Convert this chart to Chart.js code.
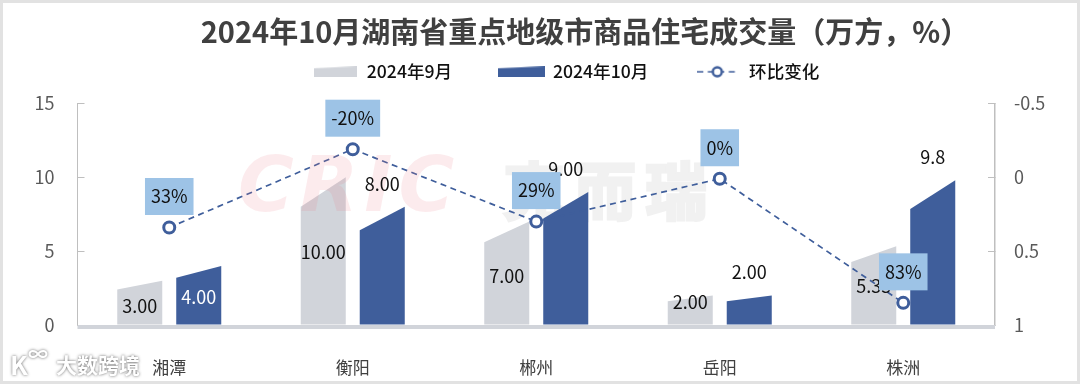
<!DOCTYPE html>
<html lang="zh">
<head>
<meta charset="utf-8">
<title>2024年10月湖南省重点地级市商品住宅成交量</title>
<style>
  html,body{margin:0;padding:0;background:#fff;}
  #wrap{position:relative;width:1080px;height:384px;}
</style>
</head>
<body>
<div id="wrap"><canvas id="chart" width="1080" height="384"></canvas></div>
<script src="https://cdn.jsdelivr.net/npm/chart.js@4"></script>
<script>
const titleText = '2024年10月湖南省重点地级市商品住宅成交量（万方，%）';
const categories = ['湘潭','衡阳','郴州','岳阳','株洲'];
const sep2024 = [3, 10, 7, 2, 5.33];
const oct2024 = [4, 8, 9, 2, 9.8];
const momChange = [0.34, -0.19, 0.30, 0.01, 0.85];
const sepLabels = ['3.00','10.00','7.00','2.00','5.33'];
const octLabels = ['4.00','8.00','9.00','2.00','9.8'];
const momLabels = ['33%','-20%','29%','0%','83%'];
const seriesNames = ['2024年9月','2024年10月','环比变化'];

const FONT = '"Noto Sans CJK SC","Noto Sans",sans-serif';
const GREY = '#d1d4da', BLUE = '#3f5e9b', BOX = '#9dc3e6';

// ---- legend swatches ----
function swatch(w, h, color, line){
  const c = document.createElement('canvas'); c.width = w; c.height = h;
  const g = c.getContext('2d');
  if(line){
    g.strokeStyle = color; g.lineWidth = 1.7; g.setLineDash([6,4.5]);
    g.beginPath(); g.moveTo(0,h/2); g.lineTo(w,h/2); g.stroke();
    g.setLineDash([]); g.lineWidth = 2.5; g.fillStyle = '#fff';
    g.beginPath(); g.arc(w/2,h/2,4.5,0,Math.PI*2); g.fill(); g.stroke();
  } else {
    g.fillStyle = color;
    g.beginPath(); g.moveTo(0,h); g.lineTo(w,h); g.lineTo(w,0); g.lineTo(0,2); g.closePath(); g.fill();
  }
  return c;
}
const swatches = [swatch(43,11,GREY), swatch(47,11,BLUE), swatch(40,14,BLUE,true)];

// ---- bars with a slanted top: left edge sits at 80% of the height ----
const slantBars = {
  id:'slantBars',
  beforeDatasetDraw(chart, args){
    const meta = args.meta;
    if(meta.type !== 'bar') return;
    const ctx = chart.ctx;
    ctx.save();
    ctx.fillStyle = chart.data.datasets[args.index].backgroundColor;
    meta.data.forEach(b=>{
      const l = b.x - b.width/2, r = b.x + b.width/2;
      ctx.beginPath();
      ctx.moveTo(l, b.base);
      ctx.lineTo(r, b.base);
      ctx.lineTo(r, b.y);
      ctx.lineTo(l, b.base - (b.base - b.y)*0.8);
      ctx.closePath();
      ctx.fill();
    });
    ctx.restore();
    return false;
  }
};

// ---- frame, floor, watermarks, labels ----
const sepNudge = [25,75,55,7,40];
const octNudge = [31,-23,-23,-23,-23];
const boxLift = 31;
const decorations = {
  id:'decorations',
  afterLayout(chart){
    // title and legend do not follow the default stacking in the source image
    chart.titleBlock.left += 45; chart.titleBlock.right += 45;
    chart.titleBlock.top = 15;
    chart.legend.left = 266; chart.legend.right = chart.legend.left + chart.legend.width;
    chart.legend.top = 17;
    chart.legend.adjustHitBoxes();
  },
  beforeDraw(chart){
    const c = chart.ctx;
    c.save();
    c.strokeStyle = '#e2e2e2'; c.lineWidth = 3;
    c.strokeRect(1.5,1.5,chart.width-3,chart.height-3);
    c.restore();
  },
  beforeDatasetsDraw(chart){
    const c = chart.ctx, a = chart.chartArea;
    c.save();
    // grey part of the watermark sits behind the bars
    c.textBaseline = 'middle';
    c.font = '700 62px '+FONT;
    c.letterSpacing = '9px';
    c.fillStyle = c.strokeStyle = '#f1f1f1';
    c.lineWidth = 3;
    c.strokeText('克而瑞', 503, 191);
    c.fillText('克而瑞', 503, 191);
    c.letterSpacing = '0px';
    c.fillStyle = GREY;
    c.fillRect(a.left, a.bottom, a.right-a.left, 4);
    c.restore();
  },
  afterDatasetsDraw(chart){
    const c = chart.ctx, y = chart.scales.y;
    c.save();
    // watermark
    c.textBaseline = 'middle';
    c.font = 'italic 700 76px "DejaVu Sans",sans-serif';
    c.fillStyle = 'rgba(236,120,135,.15)';
    c.textAlign = 'left';
    c.letterSpacing = '6px';
    c.fillText('CRIC', 238, 191);
    c.letterSpacing = '0px';
    // bar values
    c.font = '18px '+FONT;
    c.textAlign = 'center';
    const m0 = chart.getDatasetMeta(0).data, m1 = chart.getDatasetMeta(1).data;
    sepLabels.forEach((t,i)=>{
      c.fillStyle = '#111';
      c.fillText(t, m0[i].x, y.getPixelForValue(sep2024[i]) + sepNudge[i]);
    });
    octLabels.forEach((t,i)=>{
      c.fillStyle = i===0 ? '#fff' : '#111';
      c.fillText(t, m1[i].x, y.getPixelForValue(oct2024[i]) + octNudge[i]);
    });
    // change-rate boxes
    const pts = chart.getDatasetMeta(2).data;
    momLabels.forEach((t,i)=>{
      const w = c.measureText(t).width + 12, h = 37, cy = pts[i].y - boxLift;
      c.fillStyle = BOX;
      c.fillRect(pts[i].x - w/2, cy - h/2, w, h);
      c.fillStyle = '#111';
      c.fillText(t, pts[i].x, cy);
    });
    // source stamp
    c.textAlign = 'left';
    c.shadowColor = 'rgba(80,80,80,.9)'; c.shadowBlur = 3;
    c.fillStyle = '#fff';
    c.font = '700 26px '+FONT;
    c.fillText('K', 10, 365);
    c.font = '700 20px '+FONT;
    c.fillText('∞', 28, 354);
    c.font = '700 21px '+FONT;
    c.fillText('大数跨境', 56, 365);
    c.restore();
  }
};

new Chart(document.getElementById('chart'),{
  data:{
    labels:categories,
    datasets:[
      {type:'bar',label:seriesNames[0],data:sep2024,backgroundColor:GREY,yAxisID:'y',order:2,
       categoryPercentage:.643,barPercentage:.763},
      {type:'bar',label:seriesNames[1],data:oct2024,backgroundColor:BLUE,yAxisID:'y',order:2,
       categoryPercentage:.643,barPercentage:.763},
      {type:'line',label:seriesNames[2],data:momChange,yAxisID:'y1',order:1,
       borderColor:BLUE,borderWidth:1.7,borderDash:[6,4.5],tension:0,
       pointRadius:5.5,pointBorderWidth:3,pointBackgroundColor:'#fff',pointBorderColor:BLUE}
    ]
  },
  options:{
    responsive:false,animation:false,
    layout:{padding:{top:-5,bottom:0,left:0,right:0}},
    plugins:{
      title:{display:true,text:titleText,color:'#404040',
        font:{family:FONT,size:29,weight:'bold'},padding:{top:0,bottom:0}},
      legend:{display:true,position:'top',align:'start',
        labels:{color:'#111',font:{family:FONT,size:17.6,weight:'500'},usePointStyle:true,pointStyleWidth:46,padding:46,
          generateLabels:()=>seriesNames.map((text,i)=>({text,pointStyle:swatches[i],datasetIndex:i,fontColor:'#111'}))}},
      tooltip:{enabled:false}
    },
    scales:{
      x:{grid:{display:false},border:{display:false},
        ticks:{color:'#404040',font:{family:FONT,size:17},padding:24,maxRotation:0},
        afterFit:s=>{s.height=59;}},
      y:{position:'left',min:0,max:15,
        grid:{drawOnChartArea:false,tickLength:-7,tickColor:'#bfbfbf'},border:{color:'#bfbfbf'},
        ticks:{stepSize:5,color:'#595959',font:{family:FONT,size:18},padding:30},
        afterFit:s=>{s.width=77.5;}},
      y1:{position:'right',min:-0.5,max:1,reverse:true,
        grid:{drawOnChartArea:false,tickLength:-7,tickColor:'#bfbfbf'},border:{color:'#bfbfbf',width:1.5},
        ticks:{stepSize:.5,color:'#595959',font:{family:FONT,size:18},padding:26,callback:v=>String(v)},
        afterFit:s=>{s.width=85;}}
    }
  },
  plugins:[slantBars,decorations]
});
</script>
</body>
</html>
